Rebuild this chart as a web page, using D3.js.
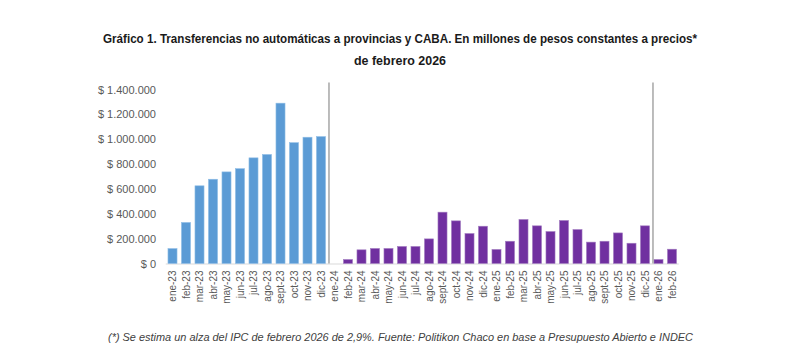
<!DOCTYPE html>
<html>
<head>
<meta charset="utf-8">
<script src="https://cdn.jsdelivr.net/npm/d3@7"></script>
<style>
  body { margin: 0; background: #fff; }
  svg { display: block; }
</style>
</head>
<body>
<div id="chart"></div>
<script>
// Months shown on the x axis
var months = ["ene-23","feb-23","mar-23","abr-23","may-23","jun-23","jul-23","ago-23","sept-23","oct-23","nov-23","dic-23",
  "ene-24","feb-24","mar-24","abr-24","may-24","jun-24","jul-24","ago-24","sept-24","oct-24","nov-24","dic-24",
  "ene-25","feb-25","mar-25","abr-25","may-25","jun-25","jul-25","ago-25","sept-25","oct-25","nov-25","dic-25",
  "ene-26","feb-26"];

// Transfers, millions of constant pesos
var values = [120000, 330000, 625000, 678000, 737000, 763000, 850000, 877000, 1290000, 972000, 1016000, 1021000,
  0, 32000, 110000, 121000, 121000, 137000, 137000, 198000, 413000, 343000, 241000, 300000,
  113000, 179000, 354000, 303000, 257000, 346000, 273000, 172000, 179000, 246000, 163000, 303000,
  32000, 115000];

var yTicks = [0, 200000, 400000, 600000, 800000, 1000000, 1200000, 1400000];
var dividers = ["ene-24", "ene-26"];

var width = 800, height = 354;

var svg = d3.select("#chart")
  .append("svg")
    .attr("width", width)
    .attr("height", height);

var locale = d3.formatLocale({ decimal: ",", thousands: ".", grouping: [3], currency: ["$ ", ""] });
var fmt = locale.format("$,");

var x = d3.scaleBand()
    .domain(months)
    .range([165.75, 678.75])
    .paddingInner(0.33)
    .paddingOuter(0.165);

var y = d3.scaleLinear()
    .domain([0, 1400000])
    .range([263.5, 89.5]);

// Title
svg.append("text")
    .attr("x", 400)
    .attr("y", 43)
    .attr("text-anchor", "middle")
    .attr("textLength", 594)
    .attr("lengthAdjust", "spacingAndGlyphs")
    .style("font-family", "'Liberation Sans Narrow', 'Liberation Sans', Arial, sans-serif")
    .style("font-weight", "bold")
    .style("font-size", "12.5px")
    .style("fill", "#1a1a1a")
    .text("Gráfico 1. Transferencias no automáticas a provincias y CABA. En millones de pesos constantes a precios*");

svg.append("text")
    .attr("x", 400)
    .attr("y", 65)
    .attr("text-anchor", "middle")
    .attr("textLength", 92)
    .attr("lengthAdjust", "spacingAndGlyphs")
    .style("font-family", "'Liberation Sans Narrow', 'Liberation Sans', Arial, sans-serif")
    .style("font-weight", "bold")
    .style("font-size", "12.5px")
    .style("fill", "#1a1a1a")
    .text("de febrero 2026");

// Y axis labels (no line)
var yAxis = svg.append("g")
    .attr("transform", "translate(156,0)")
    .call(d3.axisLeft(y).tickValues(yTicks).tickFormat(function (d) { return fmt(d); }).tickSize(0).tickPadding(0));
yAxis.select(".domain").remove();
yAxis.selectAll("text")
    .style("font-family", "'Liberation Sans', Arial, sans-serif")
    .style("font-size", "11px")
    .style("fill", "#595959");

// Baseline
svg.append("line")
    .attr("x1", 165.75)
    .attr("x2", 678.75)
    .attr("y1", y(0) + 0.5)
    .attr("y2", y(0) + 0.5)
    .attr("stroke", "#d9d9d9")
    .attr("stroke-width", 1);

// Bars
svg.append("g")
  .selectAll("rect")
  .data(months)
  .enter().append("rect")
    .attr("x", function (d) { return x(d); })
    .attr("width", x.bandwidth())
    .attr("y", function (d, i) { return y(values[i]); })
    .attr("height", function (d, i) { return y(0) - y(values[i]); })
    .attr("fill", function (d) { return d.slice(-2) === "23" ? "#5b9bd5" : "#7030a0"; })
    .attr("stroke", function (d) { return d.slice(-2) === "23" ? "#8fbde6" : "#a27cc0"; })
    .attr("stroke-width", 0.6);

// Year dividers
svg.append("g")
  .selectAll("line")
  .data(dividers)
  .enter().append("line")
    .attr("x1", function (d) { return x(d) - 1; })
    .attr("x2", function (d) { return x(d) - 1; })
    .attr("y1", 82.5)
    .attr("y2", y(0))
    .attr("stroke", "#a6a6a6")
    .attr("stroke-width", 1.5);

// X axis labels
var xAxis = svg.append("g")
    .attr("transform", "translate(0," + (y(0) + 5) + ")")
    .call(d3.axisBottom(x).tickSize(0).tickPadding(0));
xAxis.select(".domain").remove();
xAxis.selectAll("text")
    .attr("transform", "rotate(-90)")
    .attr("text-anchor", "end")
    .attr("x", -2)
    .attr("y", 0)
    .attr("dy", "0.35em")
    .style("font-family", "'Liberation Sans', Arial, sans-serif")
    .style("font-size", "10px")
    .style("fill", "#595959");

// Footnote
svg.append("text")
    .attr("x", 400.5)
    .attr("y", 341)
    .attr("text-anchor", "middle")
    .attr("textLength", 585)
    .attr("lengthAdjust", "spacingAndGlyphs")
    .style("font-family", "'Liberation Sans Narrow', 'Liberation Sans', Arial, sans-serif")
    .style("font-style", "italic")
    .style("font-size", "11px")
    .style("fill", "#404040")
    .text("(*) Se estima un alza del IPC de febrero 2026 de 2,9%. Fuente: Politikon Chaco en base a Presupuesto Abierto e INDEC");
</script>
</body>
</html>
